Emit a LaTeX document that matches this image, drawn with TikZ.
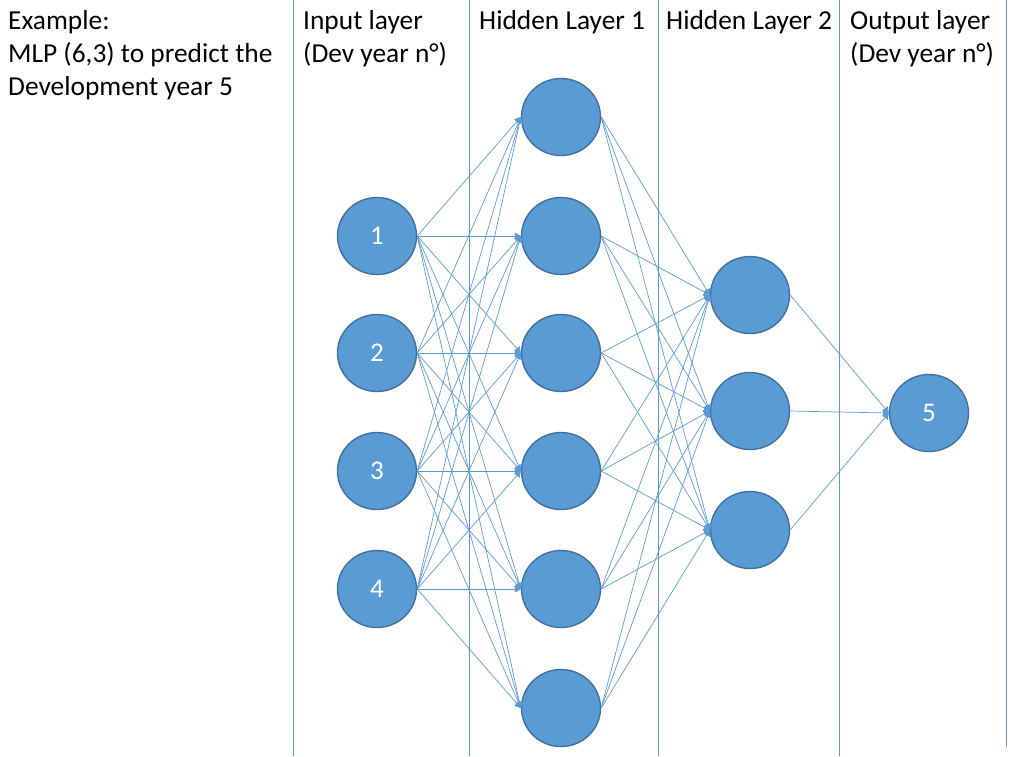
\documentclass[tikz,border=0pt]{standalone}
\usepackage{fontspec}
\setmainfont{Carlito}
\usetikzlibrary{shapes.geometric,arrows.meta}
\definecolor{nfill}{HTML}{5B9BD5}
\definecolor{ndraw}{HTML}{41719C}
\definecolor{ecol}{HTML}{5B9BD5}
\begin{document}
\begin{tikzpicture}[x=1pt,y=-1pt,
  neuron/.style={ellipse,draw=ndraw,line width=1.4pt,fill=nfill,minimum width=79pt,minimum height=77pt,inner sep=0pt,text=white,font=\fontsize{27}{30}\selectfont},
  edge/.style={draw=ecol,line width=0.7pt,-{Triangle[length=6pt,width=7pt]}},
  sep/.style={draw=ecol,line width=1pt},
  lbl/.style={anchor=base west,inner sep=0pt,font=\fontsize{27.4}{33.5}\selectfont}]
\useasboundingbox (0,0) rectangle (1016,756);
% column separators
\coordinate (s1t) at (293,0); \coordinate (s1b) at (293,756);
\coordinate (s2t) at (469,0); \coordinate (s2b) at (469,756);
\coordinate (s3t) at (658,0); \coordinate (s3b) at (658,756);
\coordinate (s4t) at (839,0); \coordinate (s4b) at (839,756);
\coordinate (s5t) at (1006,0); \coordinate (s5b) at (1006,747);
\foreach \i in {1,...,5} \draw[sep] (s\i t) -- (s\i b);
% labels
\node[lbl] (t0a) at (8,29) {Example:};
\node[lbl] (t0b) at (8,62) {MLP (6,3) to predict the};
\node[lbl] (t0c) at (8,95) {Development year 5};
\node[lbl] (t1a) at (303,29) {Input layer};
\node[lbl] (t1b) at (303,62) {(Dev year n°)};
\node[lbl] (t2) at (479,29) {Hidden Layer 1};
\node[lbl] (t3) at (666,29) {Hidden Layer 2};
\node[lbl] (t4a) at (850,29) {Output layer};
\node[lbl] (t4b) at (850,62) {(Dev year n°)};
% nodes
\node[neuron] (i1) at (377,236) {1};
\node[neuron] (i2) at (377,353) {2};
\node[neuron] (i3) at (377,471) {3};
\node[neuron] (i4) at (377,589) {4};
\node[neuron] (h1) at (561,117) {};
\node[neuron] (h2) at (561,236) {};
\node[neuron] (h3) at (561,353) {};
\node[neuron] (h4) at (561,471) {};
\node[neuron] (h5) at (561,589) {};
\node[neuron] (h6) at (561,708) {};
\node[neuron] (g1) at (750,295) {};
\node[neuron] (g2) at (750,411) {};
\node[neuron] (g3) at (750,530) {};
\node[neuron] (o1) at (929,413) {5};
% edges
\foreach \a in {1,...,4} \foreach \b in {1,...,6} \draw[edge] (i\a.east) -- (h\b.west);
\foreach \a in {1,...,6} \foreach \b in {1,...,3} \draw[edge] (h\a.east) -- (g\b.west);
\foreach \a in {1,...,3} \draw[edge] (g\a.east) -- (o1.west);
\end{tikzpicture}
\end{document}
